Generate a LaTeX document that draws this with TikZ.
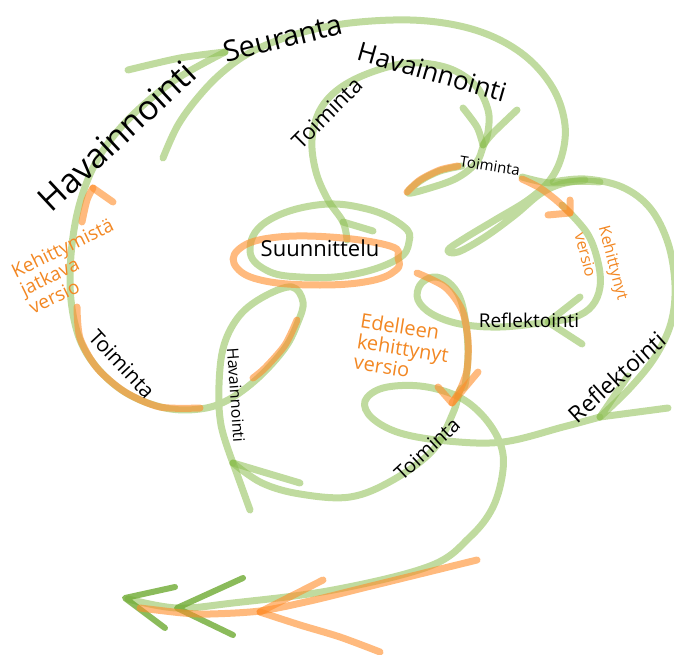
\documentclass[tikz,border=0pt]{standalone}
\usepackage{fontspec}
\newfontfamily\sketchfont{Open Sans}
\definecolor{sketchgreen}{RGB}{140,190,80}
\definecolor{darkgreen}{RGB}{110,170,50}
\definecolor{sketchorange}{RGB}{255,140,40}
\definecolor{textorange}{RGB}{242,135,35}
\begin{document}
\begin{tikzpicture}
[
 x=1pt, y=-1pt,
 GREEN/.style={draw=sketchgreen, line width=7pt, line cap=round, line join=round, opacity=0.55},
 DARKGREEN/.style={draw=darkgreen, line width=6pt, line cap=round, line join=round, opacity=0.8},
 ORANGE/.style={draw=sketchorange, line width=7pt, line cap=round, line join=round, opacity=0.6},
 TXT/.style={inner sep=0pt, text=black},
 OTXT/.style={inner sep=0pt, text=textorange, align=left},
 ]
\useasboundingbox (0,0) rectangle (674,655);
%
% outer green strokes
\draw [GREEN] plot [smooth, tension=0.6] coordinates {(163,158) (178,125) (200,95) (225,70) (255,50) (300,33) (350,23) (410,20) (460,26) (500,40) (532,62) (555,92) (565,125) (562,155) (550,180) (528,200) (495,220) (465,238) (448,250) (458,252) (485,237) (515,215) (543,192) (570,182) (600,182)};
\draw [GREEN] plot [smooth, tension=0.6] coordinates {(233,463) (221,425) (219,385) (224,345) (240,315) (265,296) (292,287) (303,302) (298,322) (285,348) (258,378) (228,400) (200,409) (165,408) (128,394) (99,370) (80,340) (71,300) (71,255) (78,210) (92,170) (112,138) (140,108) (178,78) (225,52)};
\draw [GREEN] plot [smooth] coordinates {(128,70) (180,58) (225,52)};
%
% centre
\draw [GREEN] plot [smooth cycle, tension=0.7] coordinates {(250,250) (266,222) (317,205) (367,209) (403,226) (409,242) (396,260) (350,275) (300,277) (266,270)};
\draw [GREEN] plot [smooth, tension=0.6] coordinates {(347,240) (343,222) (328,200) (316,172) (312,140) (320,110) (340,88) (372,72) (410,63) (448,68) (475,85) (488,110) (488,132) (483,147) (476,163) (457,178) (430,188) (408,193) (420,181) (440,171) (462,166)};
\draw [GREEN] (343,222) -- (373,231);
\draw [GREEN] plot [smooth] coordinates {(463,108) (477,127) (483,145)};
\draw [GREEN] plot [smooth] coordinates {(517,110) (493,133) (483,145)};
\draw [GREEN] plot [smooth] coordinates {(522,177) (550,183) (585,180)};
%
% right circle
\draw [GREEN] plot [smooth, tension=0.6] coordinates {(553,182) (585,179) (622,187) (650,208) (668,243) (675,285) (671,323) (655,357) (630,388) (600,417)};
\draw [GREEN] (628,376) -- (600,417) -- (668,408);
\draw [GREEN] plot [smooth, tension=0.6] coordinates {(600,417) (563,427) (503,442) (447,441) (400,433) (372,418) (365,401) (383,388) (420,386) (457,396) (483,416) (500,443) (503,470) (493,507) (470,537) (430,566) (333,590) (233,603) (177,608) (128,599)};
%
% inner spiral
\draw [GREEN] plot [smooth, tension=0.6] coordinates {(562,205) (587,233) (598,262) (600,287) (592,306) (575,317) (548,322) (500,327) (460,324) (432,314) (418,300) (420,285) (433,277) (448,282) (460,298) (466,325) (468,355) (465,385) (460,390) (453,413) (433,450) (393,480) (350,497) (300,494) (262,483) (233,463)};
\draw [GREEN] (580,297) -- (548,322) -- (582,344);
\draw [GREEN] (233,463) -- (300,483);
\draw [GREEN] (233,463) -- (250,510);
%
% bottom arrows
\draw [DARKGREEN] (175,587) -- (125,598) -- (165,628);
\draw [DARKGREEN] (243,578) -- (177,608) -- (233,635);
%
% orange strokes
\draw [ORANGE] plot [smooth cycle, tension=0.7] coordinates {(390,246) (330,237) (270,238) (238,250) (237,268) (265,281) (320,285) (370,281) (396,270) (398,258)};
\draw [ORANGE] plot [smooth] coordinates {(407,192) (420,180) (440,170) (458,166)};
\draw [ORANGE] plot [smooth] coordinates {(522,179) (540,188) (556,200) (570,213)};
\draw [ORANGE] (548,215) -- (570,213) -- (570,200);
\draw [ORANGE] plot [smooth] coordinates {(417,273) (445,287) (462,310) (468,340) (467,370) (460,390) (452,403)};
\draw [ORANGE] (438,387) -- (452,403) -- (478,372);
\draw [ORANGE] plot [smooth] coordinates {(82,222) (87,200) (93,188)};
\draw [ORANGE] (93,188) -- (113,202);
\draw [ORANGE] plot [smooth] coordinates {(77,307) (80,338) (97,368) (125,392) (160,407) (200,408)};
\draw [ORANGE] plot [smooth] coordinates {(297,320) (285,345) (265,368) (253,378)};
\draw [ORANGE] plot [smooth] coordinates {(477,560) (420,574) (367,587) (310,601) (260,611) (210,614) (183,613) (140,608)};
\draw [ORANGE] (323,580) -- (260,612);
\draw [ORANGE] plot [smooth] coordinates {(260,612) (300,625) (340,637) (380,652)};
%
% labels
\node [TXT, rotate=43, font={\sketchfont\fontsize{34}{36}\selectfont}] (havbig) at (117,136) {Havainnointi};
\node [TXT, rotate=14, font={\sketchfont\fontsize{29}{30}\selectfont}] (seuranta) at (283,38) {Seuranta};
\node [TXT, rotate=-16, font={\sketchfont\fontsize{26}{27}\selectfont}] (havtop) at (432,72) {Havainnointi};
\node [TXT, rotate=45, font={\sketchfont\fontsize{22}{23}\selectfont}] (toimtop) at (327,113) {Toiminta};
\node [TXT, rotate=-9, font={\sketchfont\fontsize{15}{16}\selectfont}] (toimsmall) at (490,166) {Toiminta};
\node [TXT, font={\sketchfont\fontsize{22}{23}\selectfont}] (suunn) at (320,248) {Suunnittelu};
\node [OTXT, rotate=-75, font={\sketchfont\fontsize{16}{25}\selectfont}] (kehversio) at (602,266) {Kehittynyt\\versio};
\node [TXT, font={\sketchfont\fontsize{19}{20}\selectfont}] (reflin) at (529,320) {Reflektointi};
\node [TXT, rotate=42, font={\sketchfont\fontsize{23}{24}\selectfont}] (reflout) at (617,377) {Reflektointi};
\node [OTXT, rotate=-9, font={\sketchfont\fontsize{20}{21}\selectfont}] (edelleen) at (403,348) {Edelleen\\kehittynyt\\versio};
\node [OTXT, rotate=26, font={\sketchfont\fontsize{19}{20}\selectfont}] (jatkava) at (71,266) {Kehittymistä\\jatkava\\versio};
\node [TXT, rotate=-47, font={\sketchfont\fontsize{21}{22}\selectfont}] (toimleft) at (122,364) {Toiminta};
\node [TXT, rotate=-86, font={\sketchfont\fontsize{16}{17}\selectfont}] (havvert) at (236,395) {Havainnointi};
\node [TXT, rotate=43, font={\sketchfont\fontsize{20}{21}\selectfont}] (toimbottom) at (427,449) {Toiminta};
%
\end{tikzpicture}
\end{document}
